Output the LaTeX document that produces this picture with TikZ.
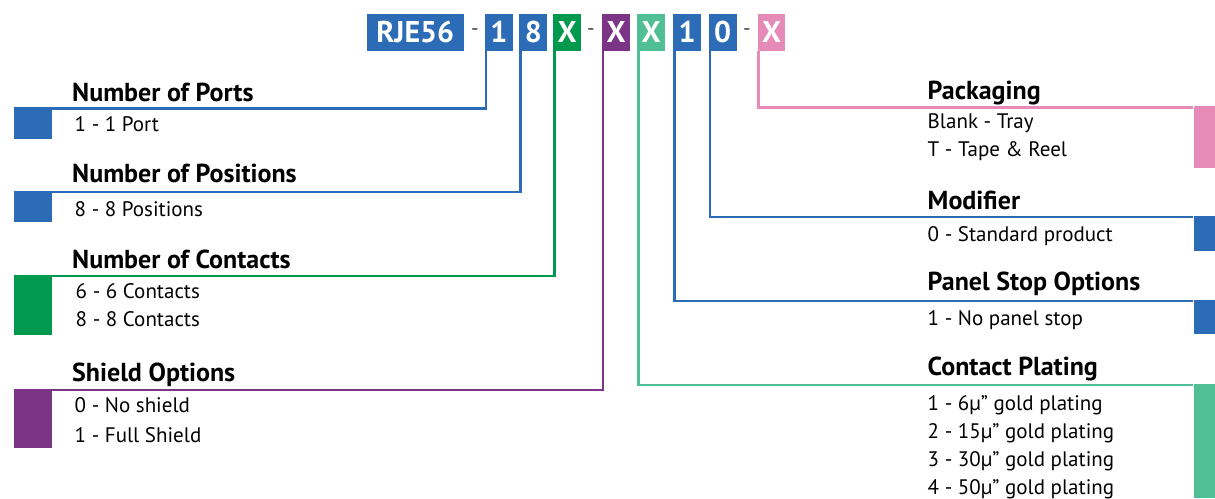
\documentclass[tikz,border=0pt]{standalone}
\usepackage{fontspec}
\setmainfont{PT Sans}
\usetikzlibrary{positioning}
\definecolor{pnblue}{HTML}{2C6BB5}
\definecolor{pngreen}{HTML}{00994D}
\definecolor{pnpurple}{HTML}{7C3486}
\definecolor{pnteal}{HTML}{50BF96}
\definecolor{pnpink}{HTML}{E68AB8}
\tikzset{
  codebox/.style={fill=#1, text=white, inner sep=0pt, minimum width=27.7pt, minimum height=36.7pt,
    font=\fontsize{30}{30}\selectfont\bfseries},
  codedash/.style={text=black!75, inner sep=0pt, font=\fontsize{21}{21}\selectfont},
  lead/.style={draw=#1, line width=2.4pt},
  tabL/.style={fill=#1, inner sep=0pt, anchor=north west, minimum width=38.4pt},
  tabR/.style={fill=#1, inner sep=0pt, anchor=north west, minimum width=21.7pt},
  head/.style={anchor=base west, inner sep=0pt, font=\fontsize{26}{26}\selectfont\bfseries},
  item/.style={anchor=base west, inner sep=0pt, font=\fontsize{21}{21}\selectfont},
}
\begin{document}
\begin{tikzpicture}[x=1pt,y=-1pt]
  \useasboundingbox (0,0) rectangle (1215,498);
  % part number
  \node[codebox=pnblue, minimum width=97.3pt] (rje) at (415.3,32.3) {RJE56};
  \node[codedash] (dash1) at (475,32) {-};
  \node[codebox=pnblue] (ports) at (498.8,32.3) {1};
  \node[codebox=pnblue] (posit) at (533.3,32.3) {8};
  \node[codebox=pngreen] (conta) at (567.2,32.3) {X};
  \node[codedash] (dash2) at (591,32) {-};
  \node[codebox=pnpurple] (shiel) at (616,32.3) {X};
  \node[codebox=pnteal] (plati) at (651.2,32.3) {X};
  \node[codebox=pnblue] (panel) at (687.2,32.3) {1};
  \node[codebox=pnblue] (modif) at (722.7,32.3) {0};
  \node[codedash] (dash3) at (747,32) {-};
  \node[codebox=pnpink] (packa) at (771.5,32.3) {X};

  % left side
  \node[tabL=pnblue, minimum height=32pt] (tabports) at (13.3,107.1) {};
  \node[head] (hports) at (72,101.7) {Number of Ports};
  \node[item] (iports1) at (74.5,131.7) {1 - 1 Port};
  \draw[lead=pnblue] ([xshift=1.2pt]ports.south west) |- ([yshift=-1.2pt]tabports.north east);

  \node[tabL=pnblue, minimum height=31pt] (tabposit) at (13.3,190.5) {};
  \node[head] (hposit) at (72,182.7) {Number of Positions};
  \node[item] (iposit1) at (74.5,216.7) {8 - 8 Positions};
  \draw[lead=pnblue] ([xshift=1.2pt]posit.south west) |- ([yshift=-1.2pt]tabposit.north east);

  \node[tabL=pngreen, minimum height=60pt] (tabconta) at (13.3,274.8) {};
  \node[head] (hconta) at (72,268.3) {Number of Contacts};
  \node[item] (iconta1) at (75.5,298.3) {6 - 6 Contacts};
  \node[item] (iconta2) at (75.5,326.7) {8 - 8 Contacts};
  \draw[lead=pngreen] ([xshift=1.2pt]conta.south west) |- ([yshift=-1.2pt]tabconta.north east);

  \node[tabL=pnpurple, minimum height=58.5pt] (tabshiel) at (13.3,388.8) {};
  \node[head] (hshiel) at (72,381.7) {Shield Options};
  \node[item] (ishiel1) at (74.5,412.3) {0 - No shield};
  \node[item] (ishiel2) at (74.5,442.3) {1 - Full Shield};
  \draw[lead=pnpurple] ([xshift=1.2pt]shiel.south west) |- ([yshift=-1.2pt]tabshiel.north east);

  % right side
  \node[tabR=pnpink, minimum height=61.6pt] (tabpacka) at (1193.3,106.1) {};
  \node[head] (hpacka) at (927.5,99.3) {Packaging};
  \node[item] (ipacka1) at (927.5,128.3) {Blank - Tray};
  \node[item] (ipacka2) at (927.5,156.7) {T - Tape \& Reel};
  \draw[lead=pnpink] ([xshift=1.2pt]packa.south west) |- ([yshift=-1.2pt]tabpacka.north west);

  \node[tabR=pnblue, minimum height=35.5pt] (tabmodif) at (1193.3,215.5) {};
  \node[head] (hmodif) at (927.5,209.3) {Modifier};
  \node[item] (imodif1) at (927.5,241) {0 - Standard product};
  \draw[lead=pnblue] ([xshift=1.2pt]modif.south west) |- ([yshift=-1.2pt]tabmodif.north west);

  \node[tabR=pnblue, minimum height=34pt] (tabpanel) at (1193.3,299.5) {};
  \node[head] (hpanel) at (927.5,290.7) {Panel Stop Options};
  \node[item] (ipanel1) at (927.5,325) {1 - No panel stop};
  \draw[lead=pnblue] ([xshift=1.2pt]panel.south west) |- ([yshift=-1.2pt]tabpanel.north west);

  \node[tabR=pnteal, minimum height=114.2pt] (tabplati) at (1193.3,383.8) {};
  \node[head] (hplati) at (927.5,375) {Contact Plating};
  \node[item] (iplati1) at (927.5,410) {1 - 6µ” gold plating};
  \node[item] (iplati2) at (927.5,438.3) {2 - 15µ” gold plating};
  \node[item] (iplati3) at (927.5,466.7) {3 - 30µ” gold plating};
  \node[item] (iplati4) at (927.5,494) {4 - 50µ” gold plating};
  \draw[lead=pnteal] ([xshift=1.2pt]plati.south west) |- ([yshift=-1.2pt]tabplati.north west);
\end{tikzpicture}
\end{document}
